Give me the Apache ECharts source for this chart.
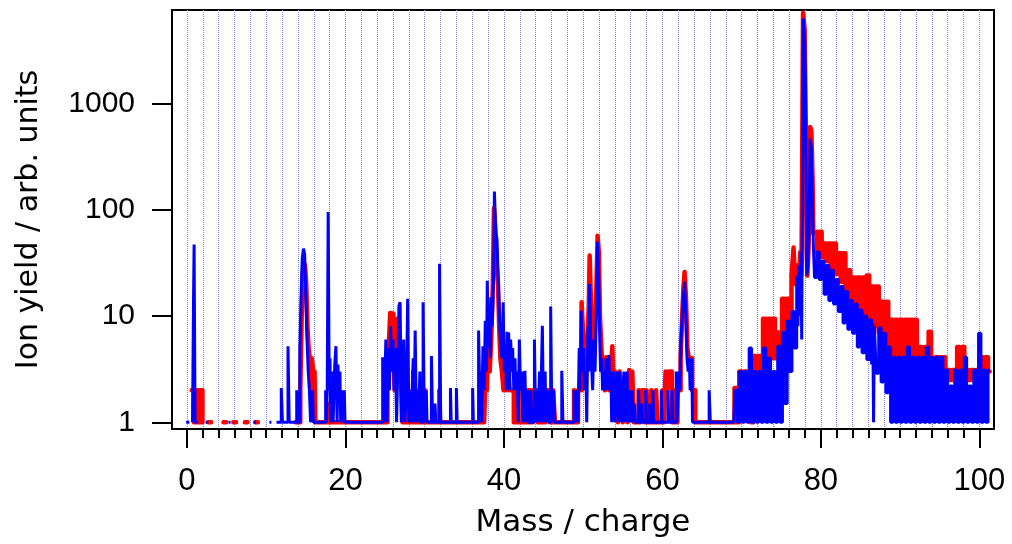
<!DOCTYPE html>
<html>
<head>
<meta charset="utf-8">
<title>Ion yield vs Mass / charge</title>
<script src="https://cdn.jsdelivr.net/npm/echarts@6/dist/echarts.min.js"></script>
<style>
  html, body { margin: 0; padding: 0; background: #ffffff; }
  #chart { width: 1012px; height: 544px; }
</style>
</head>
<body>
<div id="chart"></div>
<script>
// ---- tick labels ----
const xMajorTicks = [0, 20, 40, 60, 80, 100];
const xMinorTicks = [0, 2, 4, 6, 8, 10, 12, 14, 16, 18, 20, 22, 24, 26, 28, 30, 32, 34, 36, 38, 40,
  42, 44, 46, 48, 50, 52, 54, 56, 58, 60, 62, 64, 66, 68, 70, 72, 74, 76, 78, 80,
  82, 84, 86, 88, 90, 92, 94, 96, 98, 100];
const yTicks = [1, 10, 100, 1000];

// ---- red series: [mass/charge, ion yield] (histogram levels, each holds until the next x) ----
const red0to14 = [
  [0.6, 2], [0.87, 1], [1.14, 2], [1.41, 1], [1.68, 2], [1.95, 1], [2.0, null],
  [2.7, 1], [3.05, null],
  [4.6, 1], [4.95, null],
  [5.85, 1], [6.2, null],
  [7.3, 1], [7.65, null],
  [8.6, 1], [8.95, null],
  [13.7, 1]
];
const red14to37 = [
  [14.3, 2], [14.45, 8], [14.6, 25], [14.75, 32], [14.9, 30], [15.05, 20], [15.2, 8], [15.35, 5], [15.5, 4], [15.65, 2],
  [15.75, 4], [15.9, 3.2], [16.0, 2], [16.1, 3], [16.2, 1], [18.0, 1.5], [18.1, 1],
  [25.3, 2], [25.5, 6], [25.65, 10.7], [25.85, 10.5], [26.05, 5], [26.2, 2], [26.4, 3], [26.55, 9.4], [26.75, 8], [26.9, 3],
  [27.05, 2], [27.2, 1], [27.95, 2], [28.05, 1], [28.55, 3], [28.65, 1], [29.3, 2], [29.4, 1], [30.05, 2], [30.15, 1],
  [31.85, 2], [31.95, 1]
];
const red37to48 = [
  [37.5, 1], [37.7, 3], [37.85, 2], [38.05, 8.1], [38.2, 3], [38.4, 6], [38.6, 20], [38.75, 104], [38.95, 60], [39.1, 30],
  [39.25, 20], [39.4, 8], [39.55, 4], [39.75, 3], [39.95, 2], [40.15, 3], [40.35, 2], [40.55, 3], [40.75, 2], [40.95, 2],
  [41.25, 1], [41.55, 2], [41.85, 1], [42.45, 2], [42.75, 1], [43.05, 2], [43.35, 1], [43.65, 2], [43.95, 2], [44.25, 1],
  [44.55, 2], [44.95, 1], [45.25, 2], [45.55, 2], [45.85, 1], [46.2, 2], [46.45, 1]
];
const red48to69 = [
  [48.85, 2], [49.05, 1], [49.35, 2], [49.55, 2], [49.8, 13.5], [49.95, 8], [50.1, 4], [50.3, 3], [50.5, 5], [50.7, 12],
  [50.82, 37], [50.97, 15], [51.12, 5], [51.3, 4], [51.5, 8], [51.68, 20], [51.82, 57], [51.98, 40], [52.12, 10], [52.3, 5],
  [52.45, 3], [52.6, 4], [52.75, 2], [52.9, 4.1], [53.1, 3], [53.3, 2], [53.5, 3], [53.68, 5.2], [53.85, 2], [54.0, 3],
  [54.2, 2], [54.4, 1], [54.6, 3], [54.8, 2], [55.0, 1], [55.2, 2], [55.4, 2], [55.6, 1], [55.8, 3.1], [56.0, 2],
  [56.2, 3], [56.4, 1], [57.0, 2], [57.2, 1], [57.4, 2], [57.6, 2], [57.8, 1], [58.0, 2], [58.2, 1], [58.6, 2],
  [58.8, 1], [59.2, 2], [59.4, 1], [60.0, 2], [60.2, 1], [60.4, 3], [60.6, 2], [60.8, 3], [61.0, 3], [61.2, 1],
  [61.4, 2], [61.6, 1], [61.9, 2], [62.1, 2], [62.3, 4], [62.5, 10], [62.65, 18], [62.8, 26], [62.97, 15], [63.15, 5],
  [63.35, 4], [63.55, 4], [63.75, 2], [63.95, 2], [64.15, 1]
];
const red69to79 = [
  [69.1, 2.1], [69.4, 1], [69.7, 3], [70.0, 2], [70.3, 3], [70.6, 2], [70.9, 3], [71.2, 1], [71.5, 4.2], [71.8, 2],
  [72.1, 4.2], [72.4, 2], [72.7, 9.4], [73.0, 3], [73.3, 9.4], [73.6, 4], [73.9, 9.4], [74.2, 4], [74.5, 7], [74.8, 5],
  [75.1, 14.5], [75.4, 7], [75.7, 14.5], [76.0, 9], [76.3, 24], [76.55, 44], [76.75, 20], [77.0, 30], [77.2, 18], [77.4, 40],
  [77.55, 24], [77.65, 400], [77.75, 7100], [77.95, 5000], [78.1, 600], [78.2, 40], [78.3, 24], [78.45, 45], [78.55, 100], [78.65, 600],
  [78.8, 550], [78.95, 200], [79.05, 60]
];
const red79to101 = [
  [79.2, 62], [79.5, 40], [79.8, 62], [80.1, 36], [80.4, 48], [80.7, 33], [81.0, 48], [81.3, 28], [81.6, 48], [81.9, 25],
  [82.2, 39], [82.5, 21], [82.8, 39], [83.1, 17], [83.4, 27], [83.7, 14], [84.0, 23], [84.3, 13], [84.6, 23], [84.9, 11],
  [85.2, 23], [85.5, 10], [85.8, 24], [86.1, 9], [86.4, 19], [86.7, 8], [87.0, 19], [87.3, 7], [87.6, 13.6], [87.9, 6],
  [88.2, 13.6], [88.5, 2], [88.8, 9.2], [89.1, 4], [89.4, 9.2], [89.7, 4], [90.0, 9.2], [90.3, 4], [90.6, 9.2], [90.9, 4],
  [91.2, 9.2], [91.5, 4], [91.8, 9.2], [92.1, 4], [92.4, 5.1], [92.7, 4], [93.0, 5.1], [93.3, 4], [93.6, 7.1], [93.9, 4],
  [94.2, 4.1], [94.5, 3], [94.8, 4.1], [95.1, 3], [95.4, 4.1], [95.7, 2.5], [96.0, 3.1], [96.3, 2.5], [96.6, 3.1], [96.9, 2.5],
  [97.2, 5.1], [97.5, 3], [97.8, 5.1], [98.1, 3], [98.4, 3.1], [98.7, 2.5], [99.0, 3.1], [99.3, 2.5], [99.6, 3.1], [99.9, 2.5],
  [100.2, 4.1], [100.5, 3], [100.8, 4.1], [101.1, 3], [101.3, null]
];

// ---- blue series ----
const blue0to24 = [
  [-0.1, 1], [0.2, 1], [0.3, null],
  [0.7, 1], [0.82, 13], [0.9, 47], [1.02, 1], [1.3, 1], [1.4, null],
  [2.35, 1], [2.6, null],
  [5.25, 1], [5.5, null],
  [8.45, 1], [8.7, null],
  [10.4, 1], [10.65, null],
  [11.3, 1], [11.9, 2.1], [12.05, 1], [12.75, 5.2], [12.9, 1], [13.85, 2], [13.95, 1], [14.25, 5], [14.4, 15], [14.55, 35],
  [14.7, 43], [14.85, 38], [15.0, 15], [15.15, 6], [15.3, 3], [15.45, 2], [15.6, 1], [15.85, 2], [15.95, 1],
  [17.5, 2], [17.6, 1], [17.7, 2], [17.82, 95], [17.95, 2], [18.05, 4], [18.15, 1], [18.25, 2], [18.35, 3], [18.45, 1],
  [18.55, 2], [18.65, 3.5], [18.8, 5.2], [18.95, 1], [19.05, 3.5], [19.15, 2], [19.3, 3], [19.4, 1], [19.5, 2], [19.6, 1],
  [19.85, 2], [19.95, 1]
];
const blue24to48 = [
  [24.7, 4.1], [24.85, 1], [25.0, 3], [25.1, 6], [25.25, 1], [25.4, 5], [25.55, 2], [25.7, 8], [25.85, 3], [26.0, 6],
  [26.15, 2], [26.3, 5], [26.45, 1], [26.6, 3], [26.75, 12.5], [26.9, 13.5], [27.05, 1], [27.2, 2], [27.35, 6], [27.5, 1],
  [27.7, 2], [27.85, 14.5], [28.0, 1], [28.2, 2], [28.3, 1], [28.55, 4], [28.65, 1], [28.8, 7.3], [28.95, 1], [29.1, 2],
  [29.2, 1], [29.4, 3], [29.5, 1], [29.8, 13.5], [29.95, 1], [30.2, 2], [30.3, 1], [30.85, 4.2], [31.0, 1], [31.3, 1.5],
  [31.4, 1], [31.88, 31], [32.02, 1], [33.25, 2.1], [33.35, 1], [34.0, 2.1], [34.1, 1],
  [36.05, 2.1], [36.15, 1], [36.8, 7.3], [36.95, 2], [37.05, 3], [37.2, 1], [37.35, 5.2], [37.5, 2], [37.65, 9], [37.8, 3],
  [37.9, 21.5], [38.05, 5], [38.2, 8], [38.3, 4], [38.35, 15], [38.5, 8], [38.6, 12], [38.72, 30], [38.8, 148], [38.97, 60],
  [39.12, 53], [39.3, 20], [39.45, 9], [39.6, 5], [39.75, 4], [39.9, 13.5], [40.05, 3], [40.2, 5], [40.3, 2], [40.4, 7.1],
  [40.5, 3], [40.6, 7], [40.7, 2], [40.85, 6], [41.0, 3], [41.1, 5], [41.25, 2], [41.4, 4], [41.5, 2], [41.65, 3],
  [41.8, 1], [41.95, 6], [42.1, 2], [42.25, 3], [42.4, 1], [42.65, 3.05], [42.8, 1], [43.0, 2], [43.1, 1], [43.4, 2],
  [43.5, 1], [43.85, 6], [44.0, 1], [44.2, 2], [44.3, 1], [44.5, 3], [44.6, 1], [44.85, 8.1], [45.0, 1], [45.2, 3],
  [45.3, 1], [45.5, 2], [45.6, 1], [45.9, 12.3], [46.05, 1], [46.3, 2], [46.4, 1], [47.3, 3.05], [47.45, 1]
];
const blue48to69 = [
  [48.85, 2], [49.0, 1], [49.25, 2], [49.35, 1], [49.5, 5], [49.6, 2], [49.75, 11.2], [49.9, 3], [50.05, 5], [50.15, 2],
  [50.35, 3], [50.45, 1], [50.6, 8], [50.7, 3], [50.82, 20], [50.97, 5], [51.1, 3], [51.2, 2], [51.35, 6], [51.5, 3],
  [51.65, 10], [51.82, 50], [51.98, 20], [52.1, 6], [52.2, 3], [52.35, 4], [52.45, 2], [52.6, 3], [52.75, 2], [52.9, 4],
  [53.0, 2], [53.1, 3], [53.25, 4.3], [53.35, 2], [53.5, 3], [53.6, 1], [53.75, 2], [53.85, 3], [54.0, 1], [54.2, 2],
  [54.3, 3], [54.45, 1], [54.6, 3], [54.7, 2], [54.85, 1], [55.0, 2], [55.15, 3], [55.25, 1], [55.4, 2], [55.55, 3],
  [55.65, 1], [55.85, 2], [55.95, 1], [56.2, 2], [56.3, 1], [56.5, 1.5], [56.6, 1], [57.0, 2], [57.1, 1], [57.4, 1.5],
  [57.5, 1], [57.9, 2], [58.0, 1], [58.4, 1.5], [58.5, 1], [58.8, 2], [58.9, 1], [59.85, 2], [59.95, 1], [60.7, 2],
  [60.8, 1], [61.2, 2], [61.3, 1], [61.75, 3], [61.85, 1], [62.1, 3], [62.2, 2], [62.35, 6], [62.5, 10], [62.65, 15],
  [62.8, 21], [62.97, 10], [63.1, 4], [63.25, 3], [63.4, 4], [63.5, 2], [63.7, 4], [63.8, 1], [65.9, 2], [66.05, 1]
];
const blue69to79 = [
  [69.0, 1], [69.15, 2], [69.45, 1], [69.75, 3], [70.05, 1], [70.35, 3], [70.65, 1], [70.95, 5], [71.25, 1], [71.55, 3],
  [71.85, 1], [72.15, 3], [72.45, 1], [72.75, 5], [73.05, 1], [73.35, 4], [73.65, 1], [73.95, 3], [74.25, 1], [74.55, 5.2],
  [74.85, 1], [75.15, 7], [75.45, 1.5], [75.75, 9], [76.05, 3], [76.35, 11], [76.65, 5], [76.95, 24], [77.1, 8], [77.25, 30],
  [77.4, 10], [77.5, 40], [77.58, 6], [77.63, 40], [77.7, 300], [77.78, 6300], [78.0, 3500], [78.12, 300], [78.22, 24], [78.35, 30],
  [78.5, 60], [78.65, 465], [78.8, 380], [78.95, 100], [79.05, 46]
];
const blue79to101 = [
  [79.2, 23], [79.5, 40], [79.8, 22], [80.1, 33], [80.4, 16], [80.7, 30], [81.0, 14], [81.3, 27], [81.6, 13], [81.9, 22],
  [82.2, 11], [82.5, 19], [82.8, 8.6], [83.1, 17], [83.4, 7.5], [83.7, 14], [84.0, 6.9], [84.3, 13], [84.6, 5.1], [84.9, 11.4],
  [85.2, 4.5], [85.5, 10], [85.8, 3.9], [86.1, 9.2], [86.4, 3.5], [86.55, 8.5], [86.65, 1], [86.75, 8], [87.0, 2.9], [87.3, 7.7],
  [87.6, 2.4], [87.9, 6.9], [88.2, 1.9], [88.5, 5.1], [88.8, 1], [89.1, 4.1], [89.4, 1], [89.7, 4.1], [90.0, 1], [90.3, 4.1],
  [90.6, 1], [90.9, 5.1], [91.2, 1], [91.5, 4.1], [91.8, 1], [92.1, 4.1], [92.4, 1], [92.7, 4.1], [93.0, 1], [93.3, 5.1],
  [93.6, 1], [93.9, 4.1], [94.2, 1], [94.5, 4.1], [94.8, 1], [95.1, 4.1], [95.4, 1], [95.7, 3.1], [96.0, 1], [96.3, 2.2],
  [96.6, 1], [96.9, 3.1], [97.2, 1], [97.5, 3.1], [97.8, 1], [98.1, 4.1], [98.4, 1], [98.7, 2.2], [99.0, 1], [99.3, 3.1],
  [99.6, 1], [99.9, 6.9], [100.2, 1], [100.5, 3.1], [100.8, 1], [101.1, 3.1], [101.3, null]
];

// ---- build series data for a logarithmic (base-10) value scale ----
function toLog(p) { return [p[0], p[1] == null ? null : Math.log10(p[1])]; }
const redData = [].concat(red0to14, red14to37, red37to48, red48to69, red69to79, red79to101).map(toLog);
const blueData = [].concat(blue0to24, blue24to48, blue48to69, blue69to79, blue79to101).map(toLog);
const yTickExp = yTicks.map(v => Math.log10(v));

const X_MIN = -1.89, X_MAX = 101.85;
const Y_MIN = -0.063, Y_MAX = 3.879;

const chart = echarts.init(document.getElementById('chart'), null, { renderer: 'canvas' });
const black = '#000000';
const option = {
  animation: false,
  backgroundColor: '#ffffff',
  grid: { left: 172, right: 18, top: 10, bottom: 115, show: true, borderColor: black, borderWidth: 2, backgroundColor: 'transparent' },
  xAxis: [
    {
      type: 'value', min: X_MIN, max: X_MAX, position: 'bottom',
      axisLine: { show: true, onZero: false, lineStyle: { color: black, width: 2 } },
      axisTick: { show: true, customValues: xMinorTicks, length: 9, lineStyle: { color: black, width: 2 } },
      axisLabel: { show: true, customValues: xMajorTicks, margin: 37, color: black, fontFamily: 'Liberation Sans', fontSize: 31 },
      splitLine: { show: true, lineStyle: { type: 'dotted', color: '#8585ee', width: 1 } },
      name: 'Mass / charge', nameLocation: 'middle', nameGap: 78,
      nameTextStyle: { color: black, fontFamily: 'DejaVu Sans', fontSize: 31 }
    },
    {
      type: 'value', min: X_MIN, max: X_MAX, position: 'bottom',
      axisLine: { show: false, onZero: false },
      axisTick: { show: true, customValues: xMajorTicks, length: 19, lineStyle: { color: black, width: 2 } },
      axisLabel: { show: false },
      splitLine: { show: false }
    }
  ],
  yAxis: {
    type: 'value', min: Y_MIN, max: Y_MAX,
    axisLine: { show: true, onZero: false, lineStyle: { color: black, width: 2 } },
    axisTick: { show: true, customValues: yTickExp, length: 20, lineStyle: { color: black, width: 2 } },
    axisLabel: {
      show: true, customValues: yTickExp, margin: 37, color: black, fontFamily: 'Liberation Sans', fontSize: 30,
      formatter: v => String(Math.round(Math.pow(10, v)))
    },
    splitLine: { show: false },
    name: 'Ion yield / arb. units', nameLocation: 'middle', nameGap: 128,
    nameTextStyle: { color: black, fontFamily: 'DejaVu Sans', fontSize: 30 }
  },
  series: [
    {
      name: 'red', type: 'line', step: 'end', data: redData, symbol: 'none', showSymbol: false,
      connectNulls: false, xAxisIndex: 0, z: 3,
      lineStyle: { color: '#ff0000', width: 4.5, cap: 'round', join: 'round' }
    },
    {
      name: 'blue', type: 'line', step: 'end', data: blueData, symbol: 'none', showSymbol: false,
      connectNulls: false, xAxisIndex: 0, z: 4,
      lineStyle: { color: '#0000ff', width: 3 }
    }
  ]
};
chart.setOption(option);
</script>
</body>
</html>
